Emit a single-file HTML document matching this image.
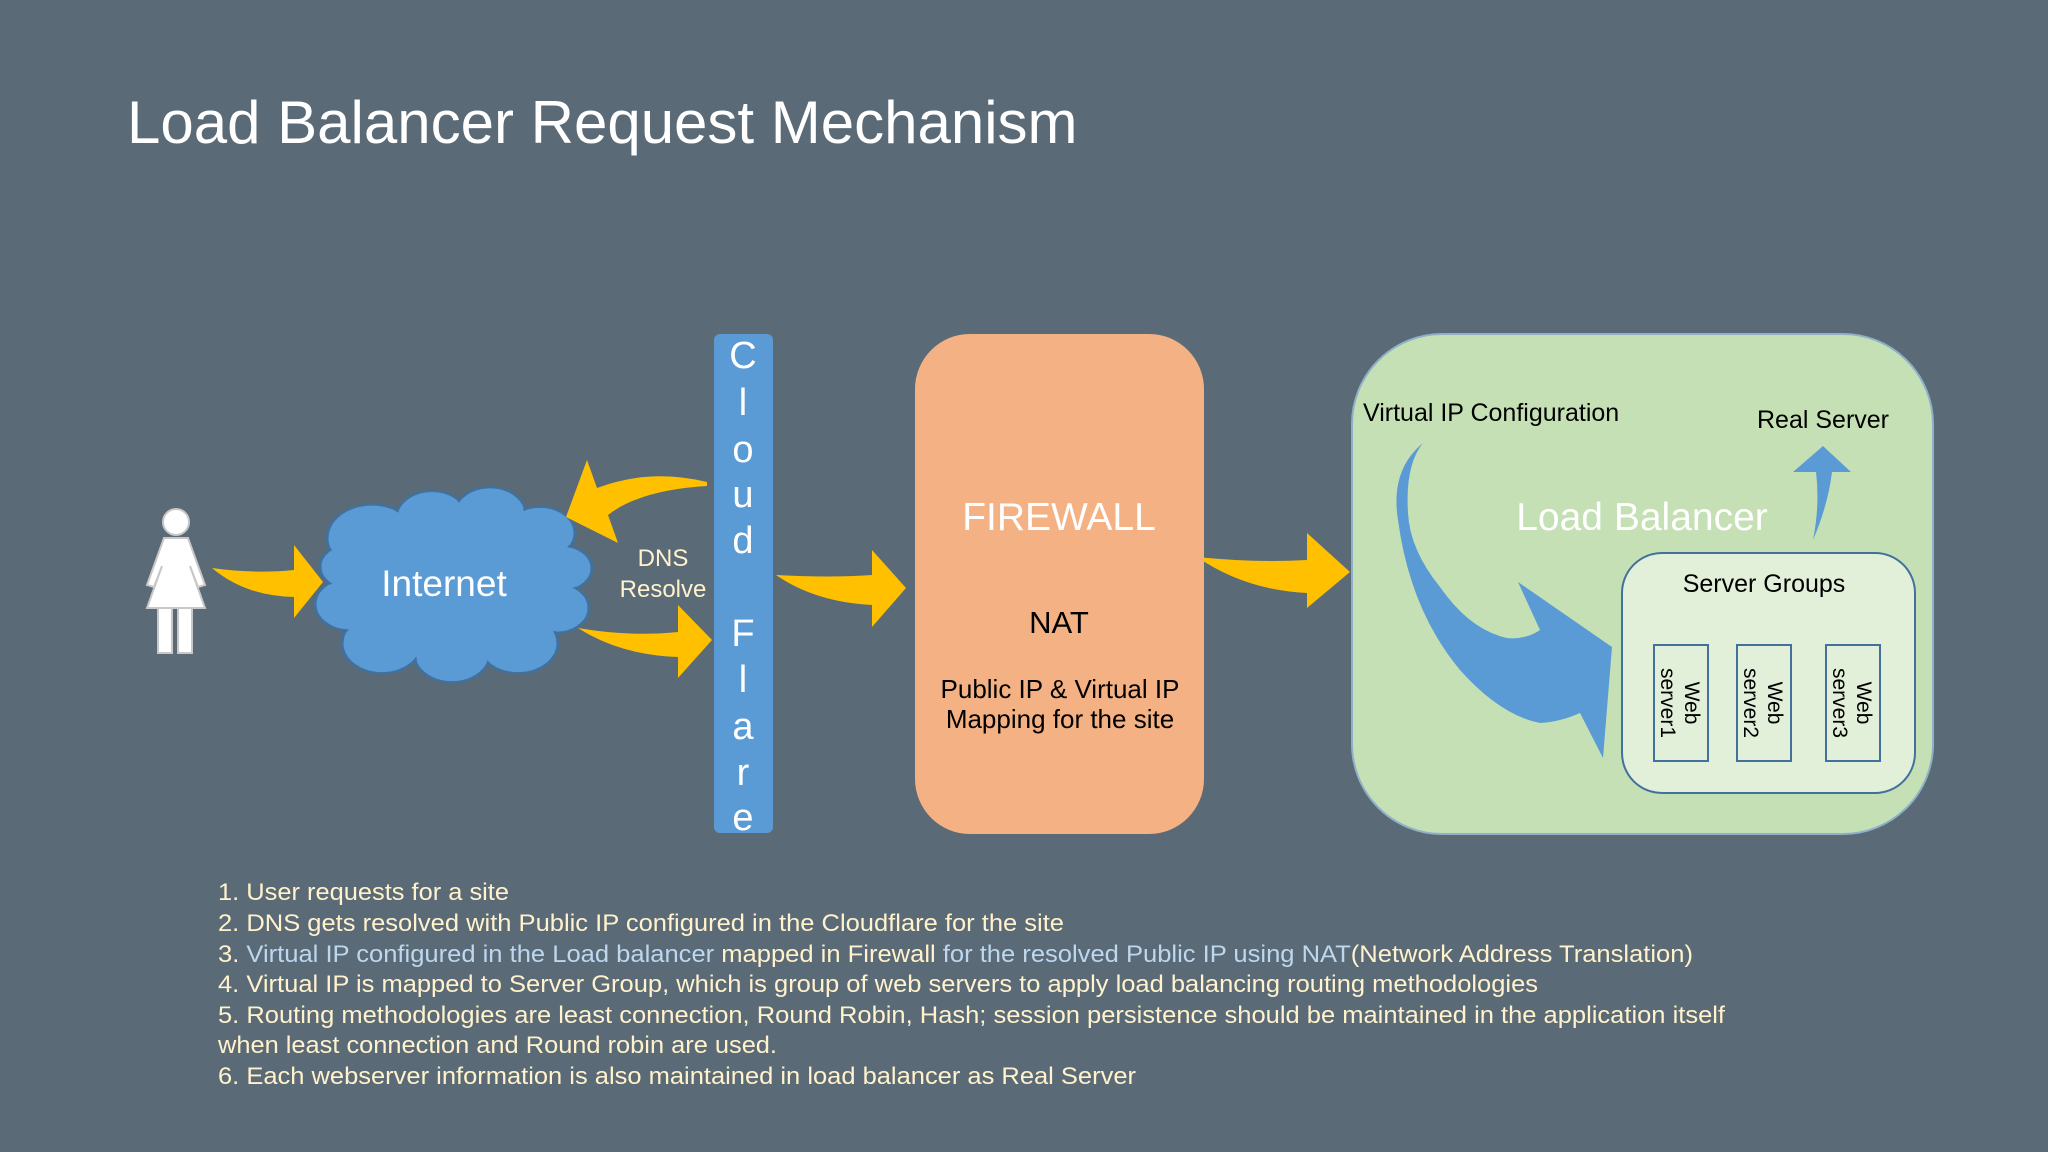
<!DOCTYPE html>
<html><head><meta charset="utf-8"><style>
html,body{margin:0;padding:0;background:#5a6a76;}
svg{display:block;}
</style></head><body>
<svg width="2048" height="1152" viewBox="0 0 2048 1152" xmlns="http://www.w3.org/2000/svg" font-family="Liberation Sans, Arial, sans-serif">
<rect width="2048" height="1152" fill="#5a6a76"/>
<text x="127" y="143" font-size="60" fill="#ffffff">Load Balancer Request Mechanism</text>

<!-- person -->
<g fill="#ffffff" stroke="#c8c8c8" stroke-width="2">
<circle cx="176" cy="522" r="13"/>
<path d="M164 538 L188 538 L205 585 L198 587 L190 566 L205 608 L147 608 L162 566 L154 587 L147 585 Z"/>
<rect x="158" y="608" width="14" height="45"/>
<rect x="178" y="608" width="14" height="45"/>
</g>

<!-- cloud -->
<g transform="matrix(1 0 0 0.75 0 79.25)">
<g fill="#5b9bd5" stroke="#41719c" stroke-width="3">
<circle cx="372" cy="612" r="45"/><circle cx="432" cy="585" r="36"/><circle cx="490" cy="580" r="36"/><circle cx="540" cy="605" r="35"/><circle cx="562" cy="652" r="30"/><circle cx="556" cy="705" r="33"/><circle cx="518" cy="752" r="40"/><circle cx="452" cy="766" r="38"/><circle cx="382" cy="752" r="40"/><circle cx="350" cy="700" r="35"/><circle cx="350" cy="650" r="30"/>
</g>
<g fill="#5b9bd5">
<circle cx="372" cy="612" r="43"/><circle cx="432" cy="585" r="34"/><circle cx="490" cy="580" r="34"/><circle cx="540" cy="605" r="33"/><circle cx="562" cy="652" r="28"/><circle cx="556" cy="705" r="31"/><circle cx="518" cy="752" r="38"/><circle cx="452" cy="766" r="36"/><circle cx="382" cy="752" r="38"/><circle cx="350" cy="700" r="33"/><circle cx="350" cy="650" r="28"/><circle cx="455" cy="675" r="95"/>
</g>
</g>
<text x="444" y="596" font-size="37" fill="#ffffff" text-anchor="middle">Internet</text>

<!-- yellow arrows -->
<g fill="#ffc000">
<path d="M212 568 Q255 574 294 570 L294 545 L323 582 L294 618 L294 597 Q245 596 212 568 Z"/>
<path d="M707 482 Q650 468 597 488 L587 460 L566 517 L618 543 L608 515 Q640 490 707 486 Z"/>
<path d="M578 628 Q630 637 678 632 L678 605 L712 640 L678 678 L678 657 Q620 655 578 628 Z"/>
<path d="M776 575 Q830 578 872 575 L872 550 L906 588 L872 627 L872 605 Q815 602 776 575 Z"/>
<path d="M1197 557 Q1255 563 1307 560 L1307 533 L1350 572 L1307 608 L1307 593 Q1245 590 1197 557 Z"/>
</g>
<text x="663" y="566" font-size="24" fill="#fff2cc" text-anchor="middle">DNS</text>
<text x="663" y="597" font-size="24" fill="#fff2cc" text-anchor="middle">Resolve</text>

<!-- cloudflare bar -->
<rect x="714" y="334" width="59" height="499" rx="6" fill="#5b9bd5"/>
<g font-size="38" fill="#ffffff" text-anchor="middle">
<text x="743" y="368">C</text><text x="743" y="415">l</text><text x="743" y="462">o</text><text x="743" y="507">u</text><text x="743" y="553">d</text>
<text x="743" y="646">F</text><text x="743" y="692">l</text><text x="743" y="739">a</text><text x="743" y="785">r</text><text x="743" y="830">e</text>
</g>

<!-- firewall -->
<rect x="915" y="334" width="289" height="500" rx="55" fill="#f4b183"/>
<text x="1059" y="530" font-size="39" fill="#ffffff" text-anchor="middle">FIREWALL</text>
<text x="1059" y="633" font-size="31" fill="#000" text-anchor="middle">NAT</text>
<text x="1060" y="698" font-size="26" fill="#000" text-anchor="middle">Public IP &amp; Virtual IP</text>
<text x="1060" y="728" font-size="26" fill="#000" text-anchor="middle">Mapping for the site</text>

<!-- load balancer -->
<rect x="1352" y="334" width="581" height="500" rx="90" fill="#c5e0b4" stroke="#8fb0c8" stroke-width="2"/>
<text x="1363" y="421" font-size="25" fill="#000">Virtual IP Configuration</text>
<text x="1757" y="428" font-size="25" fill="#000">Real Server</text>
<text x="1642" y="530" font-size="39" fill="#ffffff" text-anchor="middle">Load Balancer</text>
<path d="M1423 443 Q1390 470 1398 520 Q1410 610 1460 670 Q1500 715 1540 723 Q1560 722 1580 713 L1603 758 L1612 647 L1518 582 L1540 630 Q1525 640 1507 638 Q1470 630 1440 587 Q1410 550 1408 513 Q1405 465 1423 443 Z" fill="#5b9bd5"/>
<path d="M1813 540 Q1828 505 1832 472 L1851 472 L1823 446 L1793 472 L1816 472 Q1820 505 1813 540 Z" fill="#5b9bd5"/>
<rect x="1622" y="553" width="293" height="240" rx="40" fill="#e2efd9" stroke="#41719c" stroke-width="2"/>
<text x="1764" y="592" font-size="25" fill="#000" text-anchor="middle">Server Groups</text>
<g fill="none" stroke="#41719c" stroke-width="2">
<rect x="1654" y="645" width="54" height="116"/><rect x="1737" y="645" width="54" height="116"/><rect x="1826" y="645" width="54" height="116"/>
</g>
<g font-size="21" fill="#000" text-anchor="middle">
<text transform="translate(1681 703) rotate(90)"><tspan x="0" y="-4">Web</tspan><tspan x="0" y="20">server1</tspan></text>
<text transform="translate(1764 703) rotate(90)"><tspan x="0" y="-4">Web</tspan><tspan x="0" y="20">server2</tspan></text>
<text transform="translate(1853 703) rotate(90)"><tspan x="0" y="-4">Web</tspan><tspan x="0" y="20">server3</tspan></text>
</g>

<!-- notes -->
<g font-size="24" fill="#fff2cc">
<text x="218" y="900" textLength="291" lengthAdjust="spacingAndGlyphs">1. User requests for a site</text>
<text x="218" y="931" textLength="846" lengthAdjust="spacingAndGlyphs">2. DNS gets resolved with Public IP configured in the Cloudflare for the site</text>
<text x="218" y="962" textLength="1475" lengthAdjust="spacingAndGlyphs">3. <tspan fill="#bdd7ee">Virtual IP configured in the Load balancer</tspan> mapped in Firewall <tspan fill="#bdd7ee">for the resolved Public IP using NAT</tspan>(Network Address Translation)</text>
<text x="218" y="992" textLength="1320" lengthAdjust="spacingAndGlyphs">4. Virtual IP is mapped to Server Group, which is group of web servers to apply load balancing routing methodologies</text>
<text x="218" y="1023" textLength="1507" lengthAdjust="spacingAndGlyphs">5. Routing methodologies are least connection, Round Robin, Hash; session persistence should be maintained in the application itself</text>
<text x="218" y="1053" textLength="559" lengthAdjust="spacingAndGlyphs">when least connection and Round robin are used.</text>
<text x="218" y="1084" textLength="918" lengthAdjust="spacingAndGlyphs">6. Each webserver information is also maintained in load balancer as Real Server</text>
</g>
</svg>
</body></html>
